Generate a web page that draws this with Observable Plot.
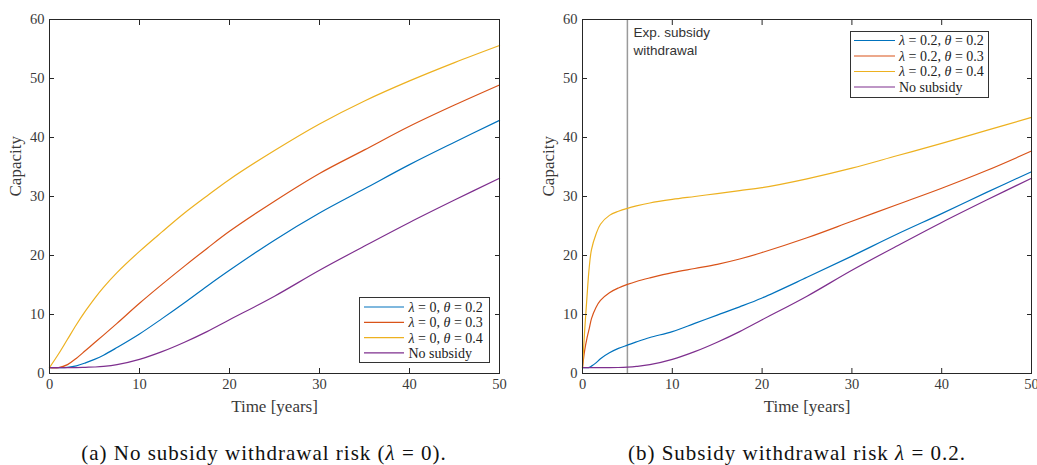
<!DOCTYPE html>
<html><head><meta charset="utf-8">
<script src="https://cdn.jsdelivr.net/npm/d3@7"></script>
<script src="https://cdn.jsdelivr.net/npm/@observablehq/plot@0.6"></script>
<style>
body{margin:0;background:#fff;}
#root{position:relative;width:1037px;height:465px;overflow:hidden;font-family:"Liberation Serif",serif;}
.panel{position:absolute;top:0;}
.caption{position:absolute;top:441px;font-size:21px;letter-spacing:1px;line-height:24px;color:#111;white-space:nowrap;transform:translateX(-50%);}
.legend{position:absolute;}
</style></head><body><div id="root"></div>
<script>
// ---------- data ----------
const xTicks = [0, 10, 20, 30, 40, 50];
const yTicks = [0, 10, 20, 30, 40, 50, 60];
const seriesColors = ["#0072BD", "#D95319", "#EDB120", "#7E2F8E"];
const xLabel = "Time [years]";
const yLabel = "Capacity";

// Panel (a): lambda = 0
const timeA = [0, 1, 2, 3, 4, 5, 6, 7.5, 10, 12.5, 15, 17.5, 20, 25, 30, 35, 40, 45, 50];
const noRiskTheta02 = [1, 1, 1.05, 1.3, 1.8, 2.4, 3.1, 4.4, 6.7, 9.3, 12.0, 14.8, 17.5, 22.6, 27.2, 31.3, 35.4, 39.2, 42.9];
const noRiskTheta03 = [1, 1.0, 1.5, 2.6, 3.9, 5.2, 6.5, 8.5, 11.9, 15.1, 18.2, 21.2, 24.1, 29.2, 33.9, 37.9, 41.9, 45.5, 48.9];
const noRiskTheta04 = [1, 3.3, 5.8, 8.3, 10.6, 12.7, 14.6, 17.1, 20.7, 24.0, 27.2, 30.1, 32.9, 37.8, 42.3, 46.2, 49.6, 52.7, 55.6];
const noSubsidyA    = [1, 1, 1, 1, 1.05, 1.1, 1.2, 1.5, 2.4, 3.7, 5.3, 7.1, 9.1, 13.1, 17.5, 21.6, 25.6, 29.4, 33.1];
const labelsA = ["λ = 0, θ = 0.2", "λ = 0, θ = 0.3", "λ = 0, θ = 0.4", "No subsidy"];

// Panel (b): lambda = 0.2
const timeB = [0, 0.25, 0.5, 0.75, 1, 1.5, 2, 3, 4, 5, 6, 7.5, 10, 12.5, 15, 17.5, 20, 25, 30, 35, 40, 45, 50];
const riskTheta02 = [1, 1, 1, 1.05, 1.25, 1.8, 2.5, 3.5, 4.25, 4.8, 5.35, 6.1, 7.1, 8.5, 9.9, 11.3, 12.8, 16.3, 19.9, 23.6, 27.1, 30.7, 34.2];
const riskTheta03 = [1, 4.0, 6.0, 7.6, 9.3, 11.2, 12.4, 13.7, 14.5, 15.1, 15.6, 16.2, 17.1, 17.8, 18.5, 19.4, 20.5, 23.0, 25.8, 28.6, 31.4, 34.4, 37.7];
const riskTheta04 = [1, 7.5, 13.0, 18.0, 21.0, 23.6, 25.3, 26.8, 27.5, 28.0, 28.4, 28.9, 29.5, 30.0, 30.5, 31.0, 31.5, 33.0, 34.8, 36.9, 39.0, 41.2, 43.4];
const noSubsidyB  = [1, 1, 1, 1, 1, 1, 1, 1, 1.02, 1.08, 1.2, 1.5, 2.4, 3.7, 5.3, 7.1, 9.1, 13.1, 17.5, 21.6, 25.6, 29.4, 33.1];
const labelsB = ["λ = 0.2, θ = 0.2", "λ = 0.2, θ = 0.3", "λ = 0.2, θ = 0.4", "No subsidy"];

const withdrawalTime = 5;
const withdrawalLabel = "Exp. subsidy\nwithdrawal";
const captionA = ["(a) No subsidy withdrawal risk (", "λ", " = 0)."];
const captionB = ["(b) Subsidy withdrawal risk ", "λ", " = 0.2."];

// ---------- build ----------
function toRows(time, seriesList, labels) {
  const rows = [];
  seriesList.forEach((vals, i) => vals.forEach((v, j) => rows.push({t: time[j], v, s: labels[i]})));
  return rows;
}
const rowsA = toRows(timeA, [noRiskTheta02, noRiskTheta03, noRiskTheta04, noSubsidyA], labelsA);
const rowsB = toRows(timeB, [riskTheta02, riskTheta03, riskTheta04, noSubsidyB], labelsB);

const serif = "'Liberation Serif', serif";

function panel({width, marginLeft, marginRight, rows, labels, extra}) {
  return Plot.plot({
    width, height: 420, marginTop: 19, marginBottom: 47, marginLeft, marginRight,
    style: {fontFamily: serif, fontSize: "14px", color: "#3a3a3a", background: "transparent", overflow: "visible"},
    x: {domain: [0, 50]},
    y: {domain: [0, 60]},
    color: {domain: labels, range: seriesColors},
    marks: [
      ...extra,
      Plot.line(rows, {x: "t", y: "v", z: "s", stroke: "s", strokeWidth: 1.2, curve: "catmull-rom"}),
      Plot.frame({stroke: "#262626", strokeWidth: 1}),
      Plot.axisX(xTicks, {anchor: "bottom", tickSize: -5, tickPadding: 10, label: null, stroke: "#262626", fontSize: 14.5, fontFamily: serif}),
      Plot.axisX(xTicks, {anchor: "top", tickSize: -5, tickFormat: () => "", label: null, stroke: "#262626"}),
      Plot.axisY(yTicks, {anchor: "left", tickSize: -5, tickPadding: 10, label: null, stroke: "#262626", fontSize: 14.5, fontFamily: serif}),
      Plot.axisY(yTicks, {anchor: "right", tickSize: -5, tickFormat: () => "", label: null, stroke: "#262626"}),
      Plot.text([xLabel], {frameAnchor: "bottom", dy: 33, lineAnchor: "middle", fontSize: 17, fontFamily: serif, fill: "#3a3a3a"}),
      Plot.text([yLabel], {frameAnchor: "left", dx: -34, rotate: -90, lineAnchor: "middle", fontSize: 17, fontFamily: serif, fill: "#3a3a3a"})
    ]
  });
}

const root = document.getElementById("root");

function addPanel(left, el) {
  const d = document.createElement("div");
  d.className = "panel";
  d.style.left = left + "px";
  d.appendChild(el);
  root.appendChild(d);
}

addPanel(0, panel({width: 520, marginLeft: 49, marginRight: 21, rows: rowsA, labels: labelsA, extra: []}));
addPanel(520, panel({width: 517, marginLeft: 62, marginRight: 6, rows: rowsB, labels: labelsB, extra: [
  Plot.ruleX([withdrawalTime], {stroke: "#9a9a9a", strokeWidth: 1.5}),
  Plot.text([withdrawalLabel], {x: withdrawalTime, y: 60, dx: 6, dy: 5, textAnchor: "start", lineAnchor: "top", lineHeight: 1.3, fontFamily: "'Liberation Sans', Arial, sans-serif", fontSize: 13.5, fill: "#333"})
]}));

function legend(left, top, w, h, labels, rowY, rowGap, lineX1, lineX2, textX) {
  const svg = d3.create("svg").attr("class", "legend").attr("width", w + 2).attr("height", h + 2)
    .style("left", left + "px").style("top", top + "px");
  svg.append("rect").attr("x", 0.5).attr("y", 0.5).attr("width", w).attr("height", h)
    .attr("fill", "#fff").attr("stroke", "#333").attr("stroke-width", 1);
  labels.forEach((lab, i) => {
    const y = rowY + i * rowGap;
    svg.append("line").attr("x1", lineX1).attr("x2", lineX2).attr("y1", y).attr("y2", y)
      .attr("stroke", seriesColors[i]).attr("stroke-width", 1.2);
    const t = svg.append("text").attr("x", textX).attr("y", y).attr("dy", "0.35em")
      .attr("font-family", serif).attr("font-size", 14).attr("fill", "#222");
    lab.split(/([λθ])/).forEach(part => {
      if (!part) return;
      const ts = t.append("tspan").text(part);
      if (part === "λ" || part === "θ") ts.attr("font-style", "italic");
    });
  });
  root.appendChild(svg.node());
}
legend(359, 297, 130, 65, labelsA, 10, 15.3, 5, 45, 49.5);
legend(850, 31, 138, 66, labelsB, 9.5, 15.5, 4, 45, 49);

function caption(centerX, parts) {
  const d = document.createElement("div");
  d.className = "caption";
  d.style.left = centerX + "px";
  parts.forEach(p => {
    const s = document.createElement("span");
    s.textContent = p;
    if (p === "λ") s.style.fontStyle = "italic";
    d.appendChild(s);
  });
  root.appendChild(d);
}
caption(264, captionA);
caption(797, captionB);
</script></body></html>
